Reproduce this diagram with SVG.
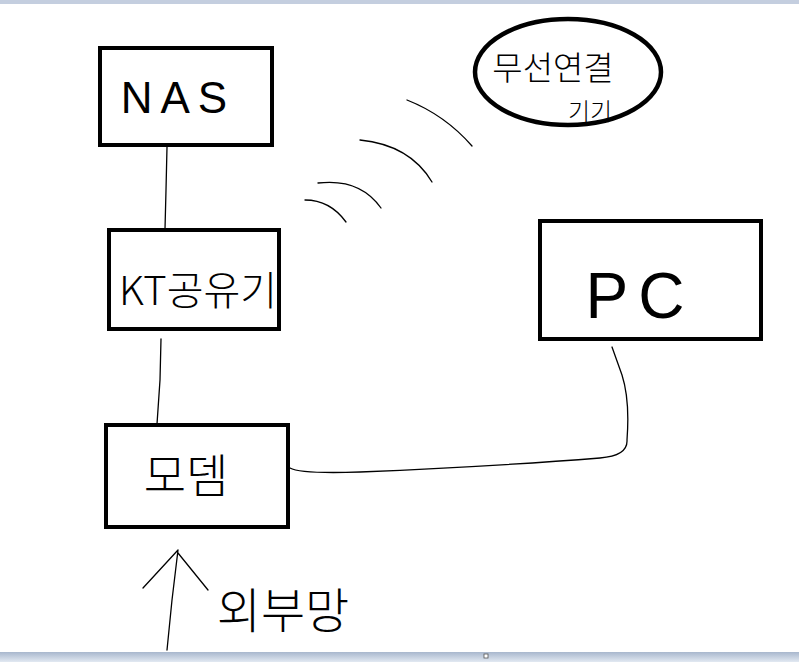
<svg xmlns="http://www.w3.org/2000/svg" width="799" height="662" viewBox="0 0 799 662">
<style>
.box{fill:#fff;stroke:#000;stroke-width:4}
.ln{fill:none;stroke:#000;stroke-width:1.3;stroke-linecap:round;stroke-linejoin:round}
.t{font-family:"Liberation Sans","Noto Sans CJK KR",sans-serif;fill:#000;text-anchor:middle}
.k{font-family:"Noto Sans CJK KR","Noto Sans",sans-serif;fill:#000;text-anchor:middle;font-weight:300}
</style>
<defs>
<linearGradient id="bar" x1="0" y1="0" x2="0" y2="1">
<stop offset="0" stop-color="#a8b7cd"/>
<stop offset="1" stop-color="#e2e9f2"/>
</linearGradient>
</defs>
<rect x="0" y="0" width="799" height="662" fill="#fff"/>
<rect x="0" y="0" width="799" height="4" fill="#c4cedf"/>
<rect x="0" y="652" width="799" height="10" fill="url(#bar)"/>
<rect x="484" y="654" width="4" height="4" fill="#fff" stroke="#555" stroke-width="0.8"/>

<g id="connectors">
<path class="ln" d="M167,147 L166,190 L165,229"/>
<path class="ln" d="M161,339 L160,380 L157,424"/>
<path class="ln" d="M290,468 Q300,474 360,472 Q500,466 600,458 Q628,456 627,440 Q630,400 622,375 L612,347"/>
<path class="ln" d="M305,200 Q330,200 346,222"/>
<path class="ln" d="M318,183 Q360,178 381,208"/>
<path class="ln" d="M360,140 Q410,145 432,182"/>
<path class="ln" d="M407,100 Q445,115 472,146"/>
<path class="ln" d="M167,650 L172,600 L178,550 M143,588 L178,550 M178,553 L208,590"/>
</g>

<g id="nas">
<rect class="box" x="100" y="48" width="172" height="97"/>
<text class="t" x="178" y="113" font-size="44" letter-spacing="8" font-weight="normal">NAS</text>
</g>

<g id="kt">
<rect class="box" x="109" y="230" width="170" height="99"/>
<text class="k" x="198" y="305" font-size="40">KT공유기</text>
</g>

<g id="modem">
<rect class="box" x="106" y="425" width="182" height="102"/>
<text class="k" x="186" y="492" font-size="46">모뎀</text>
</g>

<g id="pc">
<rect class="box" x="540" y="221" width="221" height="118"/>
<text class="t" x="640" y="318" font-size="64" letter-spacing="10">PC</text>
</g>

<g id="wireless">
<ellipse cx="568" cy="72" rx="93" ry="53" fill="#fff" stroke="#000" stroke-width="4.5"/>
<text class="k" x="553" y="80" font-size="33">무선연결</text>
<text class="k" x="590" y="120" font-size="24">기기</text>
</g>

<g id="external">
<text class="k" x="283" y="628" font-size="48">외부망</text>
</g>
</svg>
